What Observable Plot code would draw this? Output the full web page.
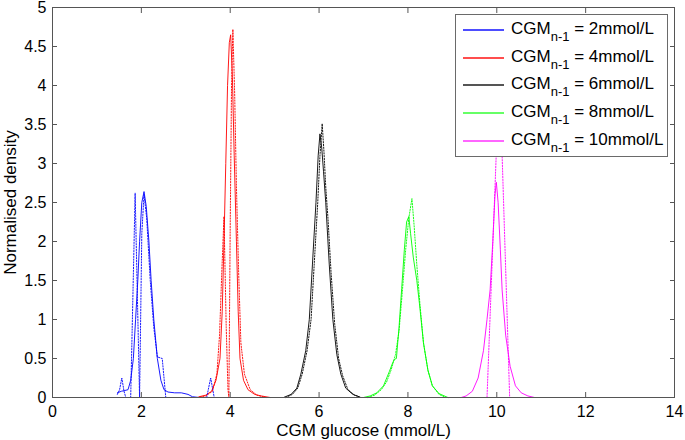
<!DOCTYPE html>
<html>
<head>
<meta charset="utf-8">
<script src="https://cdn.jsdelivr.net/npm/d3@7"></script>
<script src="https://cdn.jsdelivr.net/npm/@observablehq/plot@0.6"></script>
<style>
  body { margin: 0; background: #fff; font-family: "Liberation Sans", Arial, sans-serif; }
  #wrap { position: relative; width: 685px; height: 440px; }
  #legend { position: absolute; left: 455px; top: 14px; width: 211px; height: 141px;
            border: 1px solid #6a6a6a; background: #fff; }
  .lswatch { position: absolute; left: 7px; width: 41px; height: 2px; }
  .ltext { position: absolute; left: 55px; font-size: 17px; line-height: 17px; white-space: nowrap; color: #000; }
  .ltext sub { font-size: 13px; vertical-align: -7px; line-height: 0; }
</style>
</head>
<body>
<div id="wrap"></div>
<script>
// ---- tick values and labels ----
const xTicks = [0, 2, 4, 6, 8, 10, 12, 14];
const yTicks = [0, 0.5, 1, 1.5, 2, 2.5, 3, 3.5, 4, 4.5, 5];
const xLabel = "CGM glucose (mmol/L)";
const yLabel = "Normalised density";
const seriesNames = ["2mmol/L", "4mmol/L", "6mmol/L", "8mmol/L", "10mmol/L"];
const seriesColors = ["#0000ff", "#ff0000", "#000000", "#00ff00", "#ff00ff"];
const swatchColors = ["#4d4dff", "#ff4d4d", "#555555", "#66ff66", "#ff66ff"];

// ---- CGM(n-1) = 2 ----
const s2SolidX = [1.46, 1.55, 1.63, 1.70, 1.76, 1.82, 1.87, 1.92, 1.96, 2.01, 2.06, 2.11, 2.17, 2.22, 2.28, 2.36, 2.44, 2.51, 2.6, 2.75, 2.9, 3.05, 3.15, 3.3];
const s2SolidY = [0.06, 0.08, 0.09, 0.1, 0.22, 0.5, 1.0, 1.5, 2.0, 2.5, 2.64, 2.45, 2.0, 1.5, 1.0, 0.5, 0.22, 0.1, 0.07, 0.06, 0.06, 0.04, 0.01, 0];
const s2DotX = [1.46, 1.51, 1.56, 1.61, 1.65, 1.76, 1.86, 1.96, 2.01, 2.06, 2.12, 2.2, 2.28, 2.36, 2.47, 2.55, 3.47, 3.56, 3.64];
const s2DotY = [0.04, 0.1, 0.25, 0.08, 0, 0, 2.62, 0, 2.1, 2.6, 2.3, 1.5, 0.9, 0.52, 0.5, 0, 0, 0.25, 0];

// ---- CGM(n-1) = 4 ----
const s4SolidX = [3.3, 3.45, 3.58, 3.68, 3.77, 3.82, 3.86, 3.9, 3.94, 3.98, 4.01, 4.05, 4.09, 4.14, 4.18, 4.22, 4.3, 4.4, 4.55, 4.7, 4.9];
const s4SolidY = [0.01, 0.03, 0.08, 0.22, 0.5, 1.1, 2.0, 3.0, 4.0, 4.55, 4.65, 4.1, 3.1, 2.0, 1.1, 0.5, 0.22, 0.1, 0.04, 0.02, 0];
const s4DotX = [3.26, 3.45, 3.6, 3.7, 3.76, 3.81, 3.86, 3.91, 3.95, 3.97, 4.0, 4.03, 4.06, 4.1, 4.14, 4.19, 4.24, 4.32, 4.45, 4.6, 4.8];
const s4DotY = [0, 0.02, 0.08, 0.3, 0.8, 1.6, 2.32, 0.9, 0.1, 0, 2.2, 4.0, 4.72, 3.9, 2.7, 1.6, 0.7, 0.3, 0.1, 0.03, 0];

// ---- CGM(n-1) = 6 ----
const s6SolidX = [5.2, 5.37, 5.5, 5.59, 5.7, 5.78, 5.85, 5.93, 5.98, 6.02, 6.06, 6.1, 6.15, 6.23, 6.31, 6.4, 6.49, 6.6, 6.76, 6.9];
const s6SolidY = [0, 0.04, 0.12, 0.3, 0.6, 1.0, 1.7, 2.5, 3.1, 3.38, 3.2, 2.9, 2.5, 1.7, 1.0, 0.55, 0.3, 0.12, 0.04, 0.01];
const s6DotX = [5.25, 5.4, 5.52, 5.62, 5.73, 5.82, 5.89, 5.97, 6.02, 6.07, 6.11, 6.15, 6.2, 6.27, 6.35, 6.44, 6.53, 6.65, 6.8, 6.95];
const s6DotY = [0, 0.04, 0.12, 0.3, 0.6, 1.0, 1.7, 2.5, 3.1, 3.51, 3.15, 2.7, 2.3, 1.6, 0.95, 0.5, 0.28, 0.1, 0.03, 0];

// ---- CGM(n-1) = 8 ----
const s8SolidX = [7.0, 7.15, 7.3, 7.45, 7.58, 7.66, 7.7, 7.74, 7.8, 7.86, 7.92, 7.97, 8.02, 8.06, 8.12, 8.2, 8.26, 8.35, 8.45, 8.55, 8.7, 8.9];
const s8SolidY = [0, 0.02, 0.06, 0.15, 0.33, 0.45, 0.49, 0.5, 0.9, 1.4, 1.9, 2.25, 2.32, 2.1, 1.8, 1.5, 1.2, 0.7, 0.35, 0.15, 0.05, 0];
const s8DotX = [7.1, 7.25, 7.4, 7.52, 7.62, 7.72, 7.8, 7.88, 7.95, 8.02, 8.09, 8.14, 8.2, 8.27, 8.35, 8.45, 8.55, 8.7, 8.85];
const s8DotY = [0, 0.03, 0.1, 0.2, 0.35, 0.55, 0.85, 1.4, 1.9, 2.3, 2.55, 2.2, 1.7, 1.2, 0.7, 0.35, 0.15, 0.04, 0];

// ---- CGM(n-1) = 10 ----
const s10SolidX = [9.2, 9.31, 9.45, 9.58, 9.7, 9.78, 9.85, 9.91, 9.96, 9.99, 10.03, 10.08, 10.12, 10.2, 10.3, 10.42, 10.55, 10.7, 10.85];
const s10SolidY = [0, 0.02, 0.08, 0.25, 0.6, 1.0, 1.38, 2.0, 2.6, 2.76, 2.5, 1.9, 1.38, 0.8, 0.4, 0.15, 0.06, 0.02, 0];
const s10DotX = [9.6, 9.78, 10.06, 10.29, 10.5];
const s10DotY = [0, 0, 4.2, 0, 0];

// ---- assemble rows for Plot ----
const solidSets = [[s2SolidX, s2SolidY], [s4SolidX, s4SolidY], [s6SolidX, s6SolidY], [s8SolidX, s8SolidY], [s10SolidX, s10SolidY]];
const dotSets = [[s2DotX, s2DotY], [s4DotX, s4DotY], [s6DotX, s6DotY], [s8DotX, s8DotY], [s10DotX, s10DotY]];
function toRows(sets) {
  const rows = [];
  sets.forEach(([xs, ys], k) => xs.forEach((x, i) => rows.push({series: seriesNames[k], x, y: ys[i]})));
  return rows;
}
const solidRows = toRows(solidSets);
const dotRows = toRows(dotSets);

const axisColor = "#555555";
const chart = Plot.plot({
  width: 685,
  height: 440,
  marginLeft: 52,
  marginRight: 11,
  marginTop: 7,
  marginBottom: 43,
  style: {fontFamily: "'Liberation Sans', Arial, sans-serif", background: "#fff", color: "#000"},
  x: {domain: [0, 14]},
  y: {domain: [0, 5]},
  color: {type: "ordinal", domain: seriesNames, range: seriesColors.slice()},
  marks: [
    Plot.line(solidRows, {x: "x", y: "y", z: "series", stroke: "series", strokeWidth: 0.9, curve: "linear"}),
    Plot.line(dotRows, {x: "x", y: "y", z: "series", stroke: "series", strokeWidth: 0.9, strokeDasharray: "1.3,1.5", curve: "linear"}),
    Plot.frame({stroke: axisColor, strokeWidth: 1}),
    Plot.axisX(xTicks, {anchor: "bottom", tickSize: -5, tickPadding: 13.6, fontSize: 16, stroke: axisColor, fill: "#000", label: null}),
    Plot.axisX(xTicks, {anchor: "top", tickSize: -5, fill: "none", stroke: axisColor, label: null}),
    Plot.axisY(yTicks, {anchor: "left", tickSize: -5, tickPadding: 11, fontSize: 16, stroke: axisColor, fill: "#000", label: null, tickFormat: d3.format("")}),
    Plot.axisY(yTicks, {anchor: "right", tickSize: -5, fill: "none", stroke: axisColor, label: null}),
    Plot.text([xLabel], {text: d => d, frameAnchor: "bottom", lineAnchor: "middle", textAnchor: "middle", dy: 32.6, fontSize: 17, fill: "#000"}),
    Plot.text([yLabel], {text: d => d, frameAnchor: "left", lineAnchor: "middle", textAnchor: "middle", dx: -42, rotate: -90, fontSize: 17, fill: "#000"})
  ]
});
const wrap = document.getElementById("wrap");
wrap.appendChild(chart);

// ---- legend (overlay inside the axes, top right) ----
const legend = document.createElement("div");
legend.id = "legend";
const contentTop = 15; // legend top + border
seriesNames.forEach((name, i) => {
  const lineRow = Math.round(28.8 + 27.7 * i);
  const sw = document.createElement("div");
  sw.className = "lswatch";
  sw.style.top = (lineRow - contentTop) + "px";
  sw.style.backgroundColor = swatchColors[i];
  legend.appendChild(sw);
  const txt = document.createElement("div");
  txt.className = "ltext";
  const baseline = 34.3 + 27.7 * i;
  txt.style.top = (baseline - 14.4 - contentTop) + "px";
  txt.innerHTML = "CGM<sub>n-1</sub> = " + name;
  legend.appendChild(txt);
});
wrap.appendChild(legend);
</script>
</body>
</html>
